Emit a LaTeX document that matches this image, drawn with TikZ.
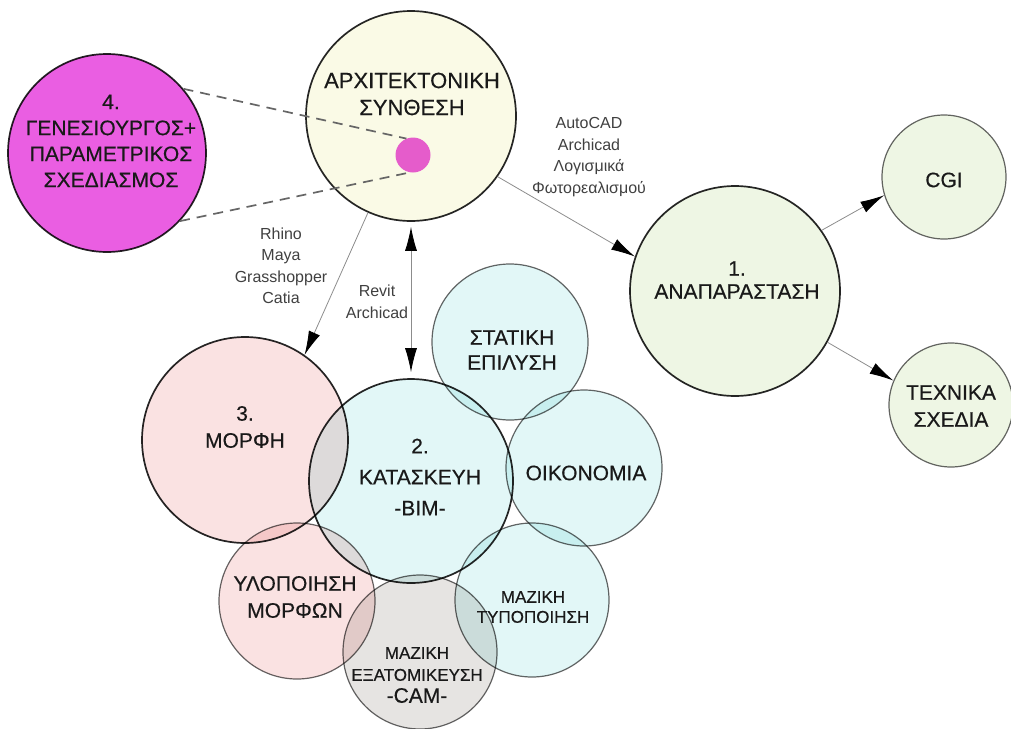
\documentclass[tikz,border=0pt]{standalone}
\usepackage{fontspec}
\setmainfont{Liberation Sans}
\newfontfamily\lblfont{Liberation Sans}[FakeBold=0.4]
\usetikzlibrary{arrows.meta}

\definecolor{cream}{RGB}{250,250,230}
\definecolor{magent}{RGB}{234,94,226}
\definecolor{mint}{RGB}{238,246,228}
\definecolor{rose}{RGB}{250,226,226}
\definecolor{aqua}{RGB}{226,247,247}
\definecolor{stone}{RGB}{230,228,226}

\tikzset{
  bigcirc/.style={circle, draw=black!85, line width=1.7pt, inner sep=0pt},
  smallcirc/.style={circle, draw=black!60, line width=1.2pt, inner sep=0pt},
  dotcirc/.style={circle, inner sep=0pt},
  lbl/.style={align=center, text=black!90, font=\lblfont\fontsize{21}{#1}\selectfont},
  lbl/.default=26,
  minilbl/.style={align=center, text=black!90, font=\lblfont\fontsize{17}{#1}\selectfont},
  minilbl/.default=20,
  soft/.style={align=center, text=black!75, font=\fontsize{16}{21.5}\selectfont},
  tool/.style={draw=black!45, line width=0.8pt},
  head/.tip={Latex[length=24pt,width=12pt,black]},
  zoomline/.style={draw=black!60, line width=1.7pt, dash pattern=on 10pt off 7pt}
}

\begin{document}
\begin{tikzpicture}[x=1pt,y=-1pt]
    \useasboundingbox (0,0) rectangle (1011,728);

    % Circles (filled, multiplied where they overlap)
    \begin{scope}[blend mode=multiply]
        \foreach \nm/\x/\y/\d/\col in {arch/411/116/210/cream, gen/107/153/198/magent,
                                       one/735/291/210/mint, three/245/440/206/rose,
                                       two/411/481/204/aqua} {
            \node[bigcirc, fill=\col, minimum size=\d pt] (\nm) at (\x,\y) {};
        }
        \foreach \nm/\x/\y/\d/\col in {stat/510/342/156/aqua, oik/584/468/156/aqua,
                                       typ/532/600/154/aqua, cam/420/652/154/stone,
                                       ylo/297/601/156/rose, cgi/944/177/124/mint,
                                       tex/951/405/124/mint} {
            \node[smallcirc, fill=\col, minimum size=\d pt] (\nm) at (\x,\y) {};
        }
        \node[dotcirc, fill=magent, minimum size=35pt] (dot) at (413,155) {};
    \end{scope}

    % Zoom lines to the small dot
    \draw[zoomline] (gen.40) -- (dot.112);
    \draw[zoomline] (gen.-43) -- (dot.-100);

    % Texts of the circles
    \node[lbl=27, font=\lblfont\fontsize{22}{27}\selectfont] (arch-t) at (412,94) {ΑΡΧΙΤΕΚΤΟΝΙΚΗ\\ΣΥΝΘΕΣΗ};
    \node[lbl=26] (gen-t) at (111,141) {4.\\ΓΕΝΕΣΙΟΥΡΓΟΣ+\\ΠΑΡΑΜΕΤΡΙΚΟΣ\\ΣΧΕΔΙΑΣΜΟΣ};
    \node[lbl=23] (one-t) at (737,280) {1.\\ΑΝΑΠΑΡΑΣΤΑΣΗ};
    \node[lbl=27] (three-t) at (245,427) {3.\\ΜΟΡΦΗ};
    \node[lbl=31] (two-t) at (420,477) {2.\\ΚΑΤΑΣΚΕΥΗ\\-ΒΙΜ-};
    \node[lbl=25] (stat-t) at (512,350) {ΣΤΑΤΙΚΗ\\ΕΠΙΛΥΣΗ};
    \node[lbl] (oik-t) at (586,473) {ΟΙΚΟΝΟΜΙΑ};
    \node[minilbl] (typ-t) at (533,607) {ΜΑΖΙΚΗ\\ΤΥΠΟΠΟΙΗΣΗ};
    \node[minilbl=22] (cam-t) at (417,675) {ΜΑΖΙΚΗ\\ΕΞΑΤΟΜΙΚΕΥΣΗ\\{\fontsize{21}{22}\selectfont -CAM-}};
    \node[lbl=27] (ylo-t) at (295,597) {ΥΛΟΠΟΙΗΣΗ\\ΜΟΡΦΩΝ};
    \node[lbl] (cgi-t) at (944,180) {CGI};
    \node[lbl=27] (tex-t) at (951,406) {ΤΕΧΝΙΚΑ\\ΣΧΕΔΙΑ};

    % Software labels
    \node[soft] (soft-one) at (589,157) {AutoCAD\\Archicad\\Λογισμικά\\Φωτορεαλισμού};
    \node[soft] (soft-three) at (281,266) {Rhino\\Maya\\Grasshopper\\Catia};
    \node[soft] (soft-two) at (377,302) {Revit\\Archicad};

    % Arrows
    \draw[tool, -head] (arch.-35) -- (one.161);
    \draw[tool, -head] (one.35) -- (cgi.-163);
    \draw[tool, -head] (one.-29) -- (tex.157);
    \draw[tool, -head] (arch.-114) -- (three.55);
    \draw[tool, head-head, shorten <=5pt, shorten >=6pt] (arch) -- (two);
\end{tikzpicture}
\end{document}
